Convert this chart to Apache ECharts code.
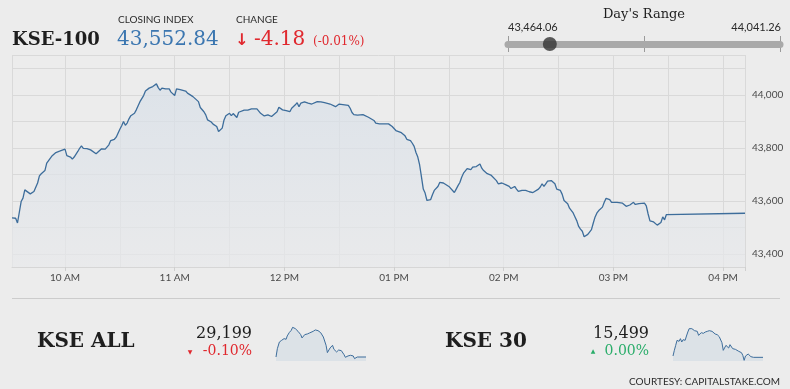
<!DOCTYPE html>
<html>
<head>
<meta charset="utf-8">
<script src="https://cdn.jsdelivr.net/npm/echarts@6/dist/echarts.min.js"></script>
<style>
html,body{margin:0;padding:0;background:#ececec;}
#chart{width:790px;height:389px;}
</style>
</head>
<body>
<div id="chart"></div>
<script>
// ---- Data ----
// minutes after midnight (571 = 9:31 AM, 972 = 4:12 PM)
const minutes = [571,573,574,576,577,578,579,581,582,583,585,586,587,588,589,590,592,593,595,596,597,598,600,601,602,603,604,605,607,608,609,610,612,614,615,617,618,620,622,624,625,627,628,630,631,632,633,634,635,636,638,639,640,641,643,644,645,646,648,649,650,651,652,653,654,655,656,657,658,660,661,662,663,664,666,667,668,670,671,673,674,676,677,678,680,681,683,684,685,686,687,688,689,690,691,692,694,695,696,698,699,700,702,703,705,706,707,709,711,712,713,714,716,717,718,719,720,721,723,724,726,727,728,729,731,732,733,735,736,738,739,740,742,743,745,746,748,749,750,751,752,753,755,756,757,758,760,761,763,764,766,767,769,770,771,772,773,775,776,777,779,780,781,782,784,785,786,787,789,790,791,792,793,794,795,796,797,798,799,800,801,802,803,804,805,806,807,808,810,811,813,814,815,816,817,818,820,821,822,823,825,826,827,828,829,830,831,833,834,836,837,839,840,841,842,843,844,846,847,848,850,851,852,854,856,857,859,860,861,862,863,864,866,867,868,869,871,872,873,874,875,876,878,879,880,881,882,883,884,885,886,888,889,890,891,892,893,894,895,896,897,898,899,900,902,903,905,906,907,909,910,911,912,914,915,917,918,919,920,921,922,923,924,925,926,927,928,929,930,972];
const kse100 = [43535,43534,43516,43597,43610,43641,43635,43626,43619,43635,43667,43694,43702,43707,43714,43742,43761,43770,43782,43777,43787,43788,43795,43770,43773,43765,43757,43765,43786,43798,43807,43798,43797,43792,43792,43777,43782,43796,43795,43811,43827,43832,43840,43870,43883,43899,43885,43893,43909,43921,43930,43943,43949,43974,43997,44014,44016,44025,44031,44032,44041,44027,44017,44025,44019,44022,44021,44022,44010,43997,44022,44018,44019,44025,44014,44006,43999,43993,43987,43974,43952,43936,43924,43905,43897,43889,43880,43861,43854,43874,43905,43921,43924,43930,43921,43929,43914,43934,43939,43942,43947,43942,43947,43943,43947,43943,43930,43920,43924,43928,43918,43915,43936,43953,43955,43943,43949,43940,43936,43949,43962,43970,43955,43968,43973,43970,43968,43965,43970,43974,43968,43973,43970,43968,43965,43958,43955,43960,43965,43970,43963,43963,43960,43949,43933,43925,43923,43928,43925,43923,43915,43908,43903,43893,43895,43890,43895,43890,43893,43890,43880,43874,43865,43870,43857,43857,43845,43832,43827,43817,43805,43782,43765,43735,43690,43644,43629,43601,43597,43604,43623,43639,43644,43654,43669,43672,43667,43661,43654,43648,43631,43644,43657,43669,43689,43704,43721,43719,43717,43727,43729,43732,43739,43723,43714,43717,43702,43697,43692,43676,43664,43667,43667,43661,43660,43654,43646,43654,43644,43635,43639,43641,43639,43634,43631,43637,43644,43652,43664,43654,43664,43674,43676,43672,43664,43644,43639,43624,43601,43594,43589,43572,43554,43539,43524,43503,43493,43485,43464,43468,43473,43491,43516,43539,43554,43563,43566,43576,43594,43609,43611,43604,43594,43596,43594,43599,43591,43594,43579,43584,43589,43594,43586,43589,43589,43591,43581,43550,43524,43519,43520,43513,43508,43511,43518,43539,43528,43548,43552.84,43552.84];

const hourTicks = [600,660,720,780,840,900,960];
const hourLabels = ['10 AM','11 AM','12 PM','01 PM','02 PM','03 PM','04 PM'];

const indexName = 'KSE-100';
const closingIndex = 43552.84;
const changeValue = -4.18;
const changePct = -0.01;
const dayLow = 43464.06;
const dayHigh = 44041.26;

const allName = 'KSE ALL';
const allClose = 29199;
const allPct = -0.10;
const allMinutes = [571,577,586,596,607,616,621,630,639,645,651,657,663,669,675,681,687,693,699,705,711,720,728,737,746,752,758,764,770,776,782,788,794,800,806,812,818,823,829,835,841,850,856,862,868,874,880,886,892,897,903,909,915,921,927,933,972];
const allValues = [29199,29286,29356,29374,29392,29385,29420,29455,29479,29511,29514,29497,29486,29469,29455,29434,29399,29420,29434,29420,29441,29451,29462,29469,29483,29490,29476,29469,29455,29434,29409,29399,29322,29245,29259,29294,29315,29322,29280,29269,29252,29272,29259,29266,29245,29224,29196,29175,29210,29224,29217,29203,29210,29182,29189,29199,29199];

const k30Name = 'KSE 30';
const k30Close = 15499;
const k30Pct = 0.00;
const k30Minutes = [571,577,583,589,598,604,610,616,625,631,637,643,649,655,661,667,673,679,685,691,697,706,715,724,733,739,745,751,759,768,777,783,789,795,801,807,813,819,825,831,837,843,849,855,864,870,876,882,888,894,900,906,912,918,924,930,936,972];
const k30Values = [15507,15541,15571,15601,15595,15611,15591,15605,15601,15627,15651,15671,15681,15671,15667,15659,15647,15655,15631,15641,15647,15643,15651,15655,15659,15663,15655,15647,15639,15635,15623,15611,15587,15541,15547,15571,15567,15555,15575,15567,15551,15541,15547,15555,15535,15541,15527,15511,15481,15507,15515,15519,15511,15503,15491,15499,15501,15499];

// ---- Helpers ----
const fmt = (v, d) => v.toLocaleString('en-US', {minimumFractionDigits: d, maximumFractionDigits: d});
const SERIF = '"DejaVu Serif", serif';
const SANS = 'Lato, "Open Sans", sans-serif';
const RED = '#e0282e', BLUE = '#3b76b0', GREEN = '#2aad6a';
const LINE = '#3d6d9b';

function txt(text, x, y, font, fill, align) {
  return {type: 'text', x: x, y: y, silent: true, z: 10,
    style: {text: text, font: font, fill: fill, align: align || 'left', textAlign: align || 'left',
      verticalAlign: 'middle', textVerticalAlign: 'middle'}};
}

const chart = echarts.init(document.getElementById('chart'), null, {renderer: 'canvas'});

const sparkGrid = (left, width) => ({left: left, width: width, top: 327, height: 34, outerBoundsMode: 'none', containLabel: false});

const option = {
  backgroundColor: '#ececec',
  animation: false,
  grid: [
    {left: 12, right: 45, top: 55, bottom: 122, outerBoundsMode: 'none', containLabel: false},
    {left: 508, right: 10, top: 36, height: 16, outerBoundsMode: 'none', containLabel: false},
    sparkGrid(276, 90),
    sparkGrid(673, 90)
  ],
  xAxis: [
    {gridIndex: 0, type: 'value', min: 571, max: 972, minInterval: 30, maxInterval: 30, position: 'bottom',
      axisLine: {show: true, lineStyle: {color: '#d6d6d6', width: 1}},
      axisTick: {show: false},
      splitLine: {show: true, lineStyle: {color: '#d9d9d9', width: 1}},
      axisLabel: {show: true, margin: 6, color: '#4a4a4a', fontFamily: SANS, fontSize: 10,
        showMinLabel: true, showMaxLabel: true,
        formatter: v => { const i = hourTicks.indexOf(Math.round(v)); return i >= 0 ? hourLabels[i] : ''; }}},
    {gridIndex: 0, type: 'value', min: 571, max: 972, position: 'bottom',
      axisLine: {show: false}, axisLabel: {show: false}, splitLine: {show: false},
      axisTick: {show: true, length: 4, customValues: hourTicks.concat([972]), lineStyle: {color: '#cfcfcf'}}},
    {gridIndex: 1, type: 'value', min: dayLow, max: dayHigh, interval: (dayHigh - dayLow) / 2,
      axisLine: {show: true, onZero: true, lineStyle: {color: '#a9a9a9', width: 7}},
      axisTick: {show: false}, axisLabel: {show: false},
      splitLine: {show: true, lineStyle: {color: '#9a9a9a', width: 1}}},
    {gridIndex: 2, type: 'value', min: 571, max: 972, show: false},
    {gridIndex: 3, type: 'value', min: 571, max: 972, show: false}
  ],
  yAxis: [
    {gridIndex: 0, type: 'value', min: 43350, max: 44150, minInterval: 100, maxInterval: 100, position: 'right',
      axisLine: {show: false}, axisTick: {show: false},
      splitLine: {show: true, lineStyle: {color: '#d9d9d9', width: 1}},
      axisLabel: {show: true, margin: 7, color: '#4a4a4a', fontFamily: SANS, fontSize: 10,
        formatter: v => (Math.round(v) % 200 === 0 ? fmt(v, 0) : '')}},
    {gridIndex: 1, type: 'value', min: -1, max: 1, show: false},
    {gridIndex: 2, type: 'value', min: 29157, max: 29514, show: false},
    {gridIndex: 3, type: 'value', min: 15477, max: 15681, show: false}
  ],
  series: [
    {type: 'line', xAxisIndex: 0, yAxisIndex: 0, showSymbol: false, symbol: 'none',
      data: minutes.map((m, i) => [m, kse100[i]]),
      lineStyle: {color: LINE, width: 1.3},
      areaStyle: {origin: 'start', color: new echarts.graphic.LinearGradient(0, 0, 0, 1, [
        {offset: 0, color: '#d7dfe8'}, {offset: 1, color: '#e8e9eb'}])}},
    {type: 'scatter', xAxisIndex: 2, yAxisIndex: 1, symbolSize: 14, z: 5,
      itemStyle: {color: '#333333'}, data: [[closingIndex, 0]]},
    {type: 'line', xAxisIndex: 3, yAxisIndex: 2, showSymbol: false, symbol: 'none',
      data: allMinutes.map((m, i) => [m, allValues[i]]),
      lineStyle: {color: LINE, width: 1}, areaStyle: {origin: 'start', color: '#d6dee6'}},
    {type: 'line', xAxisIndex: 4, yAxisIndex: 3, showSymbol: false, symbol: 'none',
      data: k30Minutes.map((m, i) => [m, k30Values[i]]),
      lineStyle: {color: LINE, width: 1}, areaStyle: {origin: 'start', color: '#d6dee6'}}
  ],
  graphic: [
    txt(indexName, 12, 40, 'bold 18px ' + SERIF, '#1e1e1e'),
    txt('CLOSING INDEX', 118, 20, '10px ' + SANS, '#2b2b2b'),
    txt(fmt(closingIndex, 2), 117, 40, '20px ' + SERIF, BLUE),
    txt('CHANGE', 236, 20, '10px ' + SANS, '#2b2b2b'),
    txt('↓', 235, 41, 'bold 16px "DejaVu Sans", sans-serif', RED),
    txt('-' + fmt(Math.abs(changeValue), 2), 254, 40, '20px ' + SERIF, RED),
    txt('(' + (changePct < 0 ? '-' : '') + fmt(Math.abs(changePct), 2) + '%)', 313, 42, '12px ' + SERIF, RED),
    txt("Day's Range", 644, 15, '13px ' + SERIF, '#1e1e1e', 'center'),
    txt(fmt(dayLow, 2), 508, 27, '11px ' + SANS, '#2b2b2b'),
    txt(fmt(dayHigh, 2), 781, 27, '11px ' + SANS, '#2b2b2b', 'right'),
    {type: 'line', silent: true, shape: {x1: 12, y1: 298.5, x2: 780, y2: 298.5}, style: {stroke: '#cccccc', lineWidth: 1}},
    txt(allName, 37, 342, 'bold 20px ' + SERIF, '#1e1e1e'),
    txt(fmt(allClose, 0), 252, 334, '16px ' + SERIF, '#1e1e1e', 'right'),
    txt('▼', 190, 352, '6px "DejaVu Sans", sans-serif', RED, 'center'),
    txt((allPct < 0 ? '-' : '') + fmt(Math.abs(allPct), 2) + '%', 252, 351, '14px ' + SERIF, RED, 'right'),
    txt(k30Name, 445, 342, 'bold 20px ' + SERIF, '#1e1e1e'),
    txt(fmt(k30Close, 0), 649, 334, '16px ' + SERIF, '#1e1e1e', 'right'),
    txt('▲', 593, 351, '6px "DejaVu Sans", sans-serif', GREEN, 'center'),
    txt(fmt(k30Pct, 2) + '%', 649, 351, '14px ' + SERIF, GREEN, 'right'),
    txt('COURTESY: CAPITALSTAKE.COM', 780, 382, '10px ' + SANS, '#2b2b2b', 'right')
  ]
};
chart.setOption(option);
</script>
</body>
</html>
